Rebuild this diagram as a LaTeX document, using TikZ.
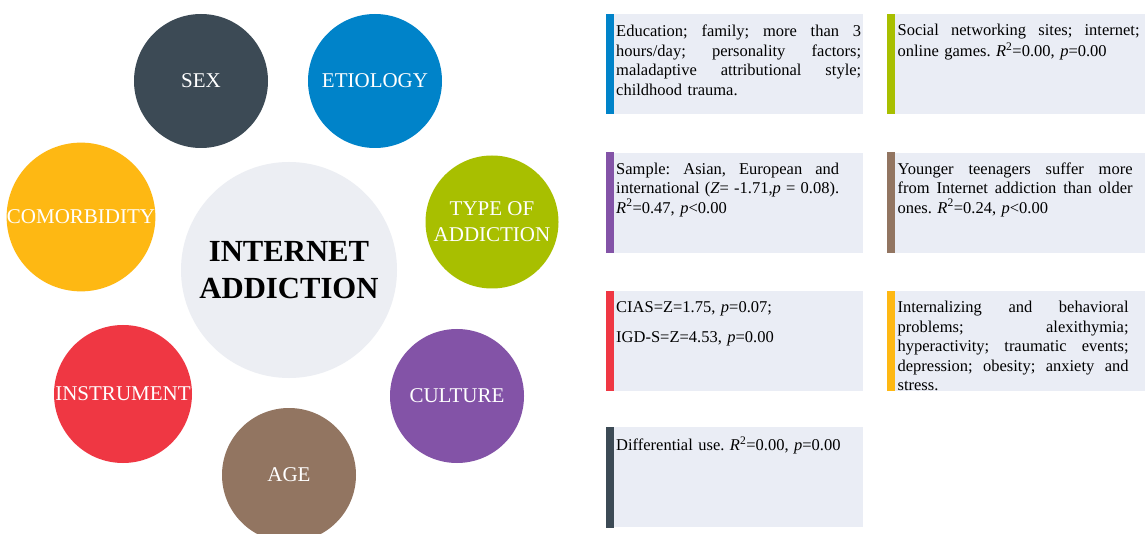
\documentclass[tikz,border=0pt]{standalone}
\usepackage{fontspec}
\setmainfont{Liberation Serif}
\usetikzlibrary{positioning}
\frenchspacing

\definecolor{sexcol}{HTML}{3C4A55}
\definecolor{etiocol}{HTML}{0083C9}
\definecolor{typecol}{HTML}{A8BF00}
\definecolor{culturecol}{HTML}{8353A7}
\definecolor{agecol}{HTML}{927561}
\definecolor{instrcol}{HTML}{EF3743}
\definecolor{comorbcol}{HTML}{FEB813}
\definecolor{centercol}{HTML}{ECEEF3}
\definecolor{panelcol}{HTML}{EAEDF5}

\newlength\notewidth
\tikzset{
  bubble/.style={circle,fill=#1,text=white,inner sep=0pt,align=center,
    font=\fontsize{21}{26}\selectfont},
  panel/.style={fill=panelcol,minimum width=257pt,minimum height=100pt,inner sep=0pt},
  note/.style={anchor=north west,inner sep=0pt,text width=#1,align=left,
    font=\fontsize{16.5}{19.5}\selectfont,
    execute at begin node={\setlength\notewidth{#1}\strut}}
}
\newcommand{\fullline}[1]{\makebox[\notewidth][s]{\spaceskip=0pt\xspaceskip=0pt\relax #1}}

\begin{document}
\begin{tikzpicture}[x=1pt,y=-1pt]
  \useasboundingbox[fill=white] (0,0) rectangle (1148,534);

  % circles round the centre
  \node[bubble=centercol,minimum size=216pt,text=black,
        font=\bfseries\fontsize{30.7}{37.5}\selectfont] (core) at (289,270) {INTERNET\\ADDICTION};
  \foreach \name/\x/\y/\d/\col/\txt in
    {sex/201/81/134/sexcol/SEX,
     etio/375/81/134/etiocol/ETIOLOGY,
     type/492/222/133/typecol/{TYPE OF\\ADDICTION},
     culture/457/396/134/culturecol/CULTURE,
     age/289/475/134/agecol/AGE,
     instr/123/394/138/instrcol/INSTRUMENT,
     comorb/81/217/142/comorbcol/COMORBIDITY}
    \node[bubble=\col,minimum size=\d pt] (\name) at (\x,\y) {\txt};

  % panels
  \node[panel,anchor=north west] (P1) at (606,14) {};
  \node[panel,right=24pt of P1] (P2) {};
  \node[panel,below=38pt of P1] (P3) {};
  \node[panel,right=24pt of P3] (P4) {};
  \node[panel,below=38pt of P3] (P5) {};
  \node[panel,right=24pt of P5] (P6) {};
  \node[panel,below=36pt of P5] (P7) {};

  \foreach \p/\col in {P1/etiocol,P2/typecol,P3/culturecol,P4/agecol,P5/instrcol,P6/comorbcol,P7/sexcol}
    \fill[\col] (\p.north west) rectangle ([xshift=8pt]\p.south west);

  \node[note=245pt] (T1) at ([shift={(10,9)}]P1.north west)
    {\fullline{Education; family; more than 3}\\
     \fullline{hours/day; personality factors;}\\
     \fullline{maladaptive attributional style;}\\
     childhood trauma.};
  \node[note=242pt] (T2) at ([shift={(10,8)}]P2.north west)
    {\fullline{Social networking sites; internet;}\\
     online games. \textit{R}\textsuperscript{2}=0.00, \textit{p}=0.00};
  \node[note=223pt] (T3) at ([shift={(10,8)}]P3.north west)
    {\fullline{Sample: Asian, European and}\\
     \fullline{international (\textit{Z}= -1.71,\textit{p} = 0.08).}\\
     \textit{R}\textsuperscript{2}=0.47, \textit{p}<0.00};
  \node[note=235pt] (T4) at ([shift={(10,8)}]P4.north west)
    {\fullline{Younger teenagers suffer more}\\
     \fullline{from Internet addiction than older}\\
     ones. \textit{R}\textsuperscript{2}=0.24, \textit{p}<0.00};
  \node[note=240pt] (T5) at ([shift={(10,8)}]P5.north west)
    {CIAS=Z=1.75, \textit{p}=0.07;\\[10.5pt]
     IGD-S=Z=4.53, \textit{p}=0.00};
  \node[note=231pt] (T6) at ([shift={(10,8)}]P6.north west)
    {\fullline{Internalizing and behavioral}\\
     \fullline{problems; alexithymia;}\\
     \fullline{hyperactivity; traumatic events;}\\
     \fullline{depression; obesity; anxiety and}\\
     stress.};
  \node[note=240pt] (T7) at ([shift={(10,9)}]P7.north west)
    {Differential use. \textit{R}\textsuperscript{2}=0.00, \textit{p}=0.00};
\end{tikzpicture}
\end{document}
